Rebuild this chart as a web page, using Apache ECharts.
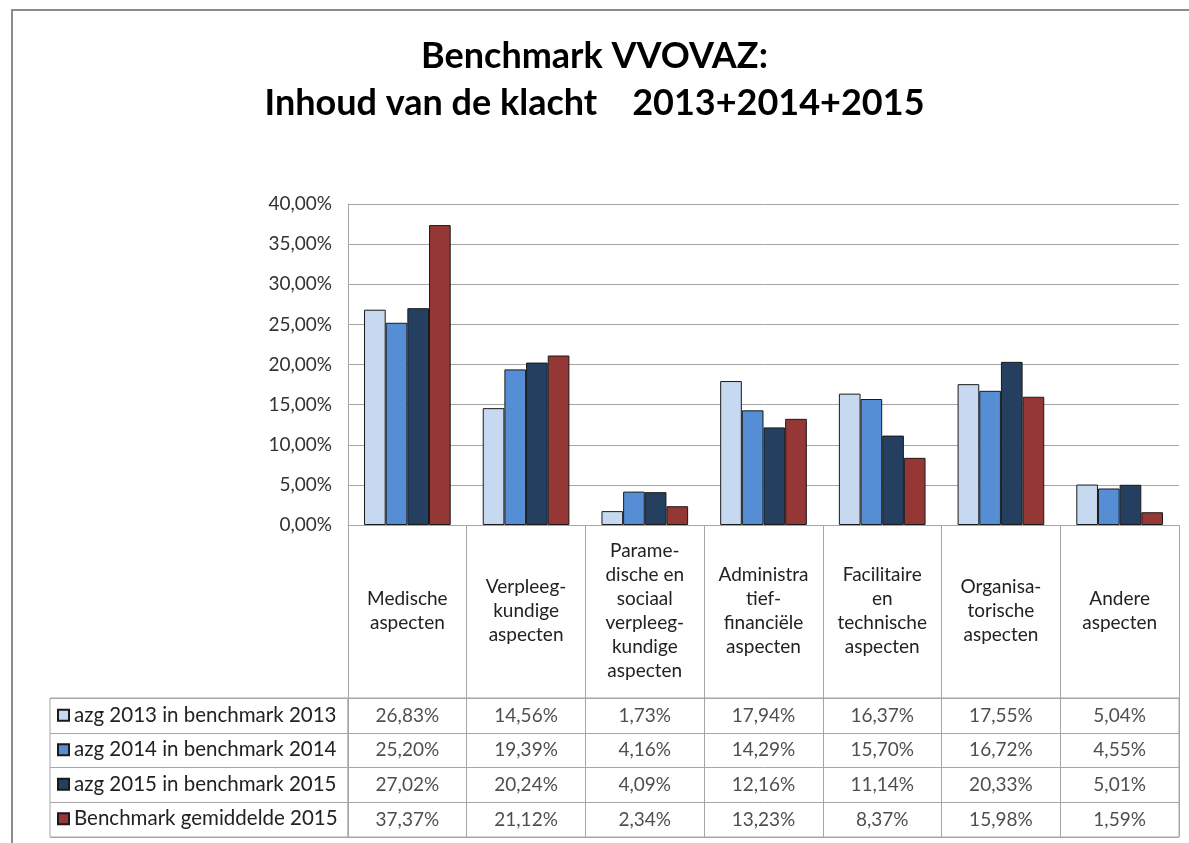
<!DOCTYPE html>
<html>
<head>
<meta charset="utf-8">
<script src="https://cdn.jsdelivr.net/npm/echarts@6/dist/echarts.min.js"></script>
<style>
  html, body { margin: 0; padding: 0; background: #fff; }
  #chart { width: 1189px; height: 843px; }
</style>
</head>
<body>
<div id="chart"></div>
<script>
// categorieen (met de regelafbrekingen zoals in de tabel)
const categories = [
  "Medische\naspecten",
  "Verpleeg-\nkundige\naspecten",
  "Parame-\ndische en\nsociaal\nverpleeg-\nkundige\naspecten",
  "Administra\ntief-\nfinanciële\naspecten",
  "Facilitaire\nen\ntechnische\naspecten",
  "Organisa-\ntorische\naspecten",
  "Andere\naspecten",
];
const seriesNames = [
  "azg 2013 in benchmark 2013",
  "azg 2014 in benchmark 2014",
  "azg 2015 in benchmark 2015",
  "Benchmark gemiddelde 2015",
];
// waarden in procent
const azg2013 = [26.83, 14.56, 1.73, 17.94, 16.37, 17.55, 5.04];
const azg2014 = [25.2, 19.39, 4.16, 14.29, 15.7, 16.72, 4.55];
const azg2015 = [27.02, 20.24, 4.09, 12.16, 11.14, 20.33, 5.01];
const benchmark2015 = [37.37, 21.12, 2.34, 13.23, 8.37, 15.98, 1.59];
const colors = ["#C6D9F1", "#558ED5", "#243F60", "#953735"];

const rows = [azg2013, azg2014, azg2015, benchmark2015];
const font = "Lato, 'Open Sans', sans-serif";
const lineColor = "#A6A6A6";

const pct = (v) => v.toFixed(2).replace(".", ",") + "%";

// cellen van de datatabel
const tableData = [];
rows.forEach((row, r) => {
  row.forEach((v, i) => tableData.push([i, r, v]));
});

const chart = echarts.init(document.getElementById("chart"));
chart.setOption({
  animation: false,
  color: colors,
  textStyle: { fontFamily: font },
  title: {
    text: "Benchmark VVOVAZ:\nInhoud van de klacht    2013+2014+2015",
    left: "center",
    top: 33,
    padding: [0, 0, 0, 24],
    textStyle: {
      fontFamily: font,
      fontSize: 36,
      fontWeight: "bold",
      lineHeight: 47,
      color: "#000",
    },
  },
  legend: {
    data: seriesNames,
    orient: "vertical",
    left: 57,
    top: 698,
    height: 145,
    padding: 0,
    itemGap: 0,
    itemWidth: 11,
    itemHeight: 11,
    icon: "rect",
    selectedMode: false,
    textStyle: { fontSize: 20.5, lineHeight: 34.5, color: "#222" },
  },
  graphic: [
    {
      type: "rect",
      shape: { x: 12, y: 10, width: 1200, height: 900 },
      style: { fill: "none", stroke: "#8C8C8C", lineWidth: 2 },
      silent: true,
      z: -1,
    },
  ],
  grid: [
    { left: 348, right: 10, top: 204, height: 321 },
    { left: 348, right: 10, top: 698, height: 139, show: true, borderColor: lineColor, borderWidth: 1 },
    { left: 50, width: 298, top: 698, height: 139, show: true, borderColor: lineColor, borderWidth: 1 },
  ],
  xAxis: [
    {
      type: "category",
      gridIndex: 0,
      data: categories,
      axisLine: { lineStyle: { color: lineColor } },
      axisTick: { show: true, interval: 0, length: 173, lineStyle: { color: lineColor } },
      axisLabel: {
        interval: 0,
        margin: 86,
        verticalAlign: "middle",
        fontSize: 19,
        lineHeight: 24,
        color: "#222",
      },
    },
    {
      type: "category",
      gridIndex: 1,
      data: categories,
      axisLine: { show: false },
      axisTick: { show: false },
      axisLabel: { show: false },
      splitLine: { show: true, interval: 0, lineStyle: { color: lineColor } },
    },
    {
      type: "category",
      gridIndex: 2,
      data: [""],
      axisLine: { show: false },
      axisTick: { show: false },
      axisLabel: { show: false },
    },
  ],
  yAxis: [
    {
      type: "value",
      gridIndex: 0,
      min: 0,
      max: 40,
      interval: 5,
      axisLine: { show: true, lineStyle: { color: lineColor } },
      axisTick: { show: false },
      splitLine: { lineStyle: { color: lineColor } },
      axisLabel: { formatter: pct, fontSize: 19, color: "#333", margin: 16 },
    },
    {
      type: "category",
      gridIndex: 1,
      inverse: true,
      data: seriesNames,
      axisLine: { show: false },
      axisTick: { show: false },
      axisLabel: { show: false },
      splitLine: { show: true, interval: 0, lineStyle: { color: lineColor } },
    },
    {
      type: "category",
      gridIndex: 2,
      inverse: true,
      data: seriesNames,
      axisLine: { show: false },
      axisTick: { show: false },
      axisLabel: { show: false },
      splitLine: { show: true, interval: 0, lineStyle: { color: lineColor } },
    },
  ],
  series: [
    ...rows.map((row, r) => ({
      name: seriesNames[r],
      type: "bar",
      xAxisIndex: 0,
      yAxisIndex: 0,
      data: row,
      barGap: 0,
      barCategoryGap: "27%",
      itemStyle: { color: colors[r], borderColor: "#1a1a1a", borderWidth: 1 },
    })),
    {
      type: "scatter",
      xAxisIndex: 1,
      yAxisIndex: 1,
      symbolSize: 1,
      itemStyle: { color: "rgba(0,0,0,0)" },
      data: tableData,
      label: {
        show: true,
        position: "inside",
        formatter: (p) => pct(p.value[2]),
        fontSize: 19,
        color: "#222",
      },
    },
  ],
});
</script>
</body>
</html>
